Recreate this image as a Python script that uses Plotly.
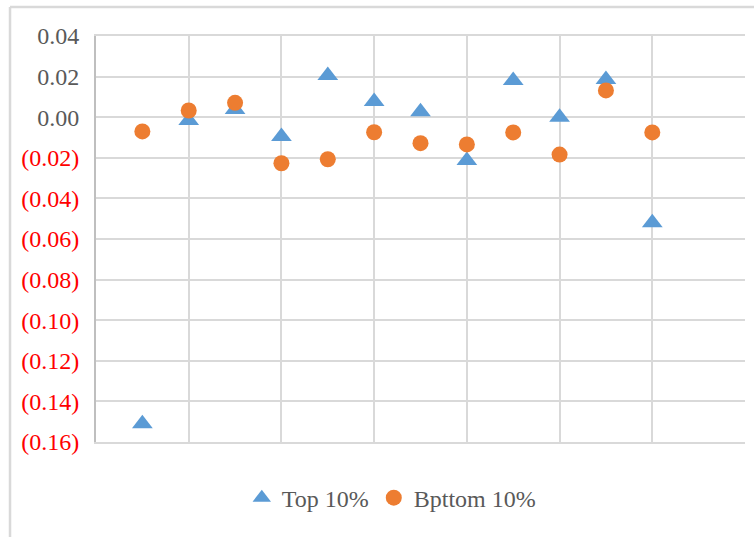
import plotly.graph_objects as go

# Period index (1..12) and the two decile series
periods = list(range(1, 13))
top_10 = [-0.151, -0.0016, 0.0038, -0.0095, 0.0205, 0.0077, 0.0027, -0.0213, 0.0181, 0.0000, 0.0186, -0.052]
bottom_10 = [-0.0070, 0.0033, 0.0071, -0.0227, -0.0207, -0.0074, -0.0128, -0.0134, -0.0075, -0.0184, 0.0132, -0.0075]

tick_vals = [0.04, 0.02, 0.00, -0.02, -0.04, -0.06, -0.08, -0.10, -0.12, -0.14, -0.16]


def fmt(v):
    # accounting-style labels: negatives in red parentheses
    if v < -1e-9:
        return '<span style="color:#FF0000">(%.2f)</span>' % abs(v)
    return "%.2f" % abs(v)


tick_text = [fmt(v) for v in tick_vals]

BLUE = "#5B9BD5"
ORANGE = "#ED7D31"
GRID = "#D9D9D9"
FONT = "Liberation Serif"

fig = go.Figure()
fig.add_trace(go.Scatter(
    x=periods, y=top_10, mode="markers", name="Top 10%",
    marker=dict(symbol="triangle-up", size=18, color=BLUE),
))
fig.add_trace(go.Scatter(
    x=periods, y=bottom_10, mode="markers", name="Bpttom 10%",
    marker=dict(symbol="circle", size=16, color=ORANGE),
))

# outer chart frame (left and top edges visible)
fx = -0.1325
fy = 1.0714
fig.add_shape(type="line", xref="paper", yref="paper", x0=fx, x1=fx, y0=-0.5, y1=fy,
              line=dict(color=GRID, width=2.5))
fig.add_shape(type="line", xref="paper", yref="paper", x0=fx, x1=1.5, y0=fy, y1=fy,
              line=dict(color=GRID, width=2.5))

fig.update_layout(
    width=754, height=537,
    margin=dict(l=96, r=9, t=36, b=95),
    paper_bgcolor="white", plot_bgcolor="white",
    font=dict(family=FONT, size=24, color="#595959"),
    showlegend=True,
    legend=dict(orientation="h", x=0.455, xanchor="center", y=-0.138, yanchor="middle",
                font=dict(family=FONT, size=24, color="#595959"),
                itemwidth=30, tracegroupgap=0, bgcolor="rgba(0,0,0,0)"),
    xaxis=dict(range=[0, 14], tick0=0, dtick=2, showticklabels=False, ticks="",
               showgrid=True, gridcolor=GRID, gridwidth=2, zeroline=False,
               showline=True, mirror=True, linecolor=GRID, linewidth=2),
    yaxis=dict(range=[-0.16, 0.04], tickvals=tick_vals, ticktext=tick_text,
               showgrid=True, gridcolor=GRID, gridwidth=2, zeroline=False,
               showline=True, linecolor="#BFBFBF", linewidth=2, ticks="",
               ticklabelstandoff=10,
               tickfont=dict(family=FONT, size=24, color="#595959")),
)

fig.write_html("out.html")
